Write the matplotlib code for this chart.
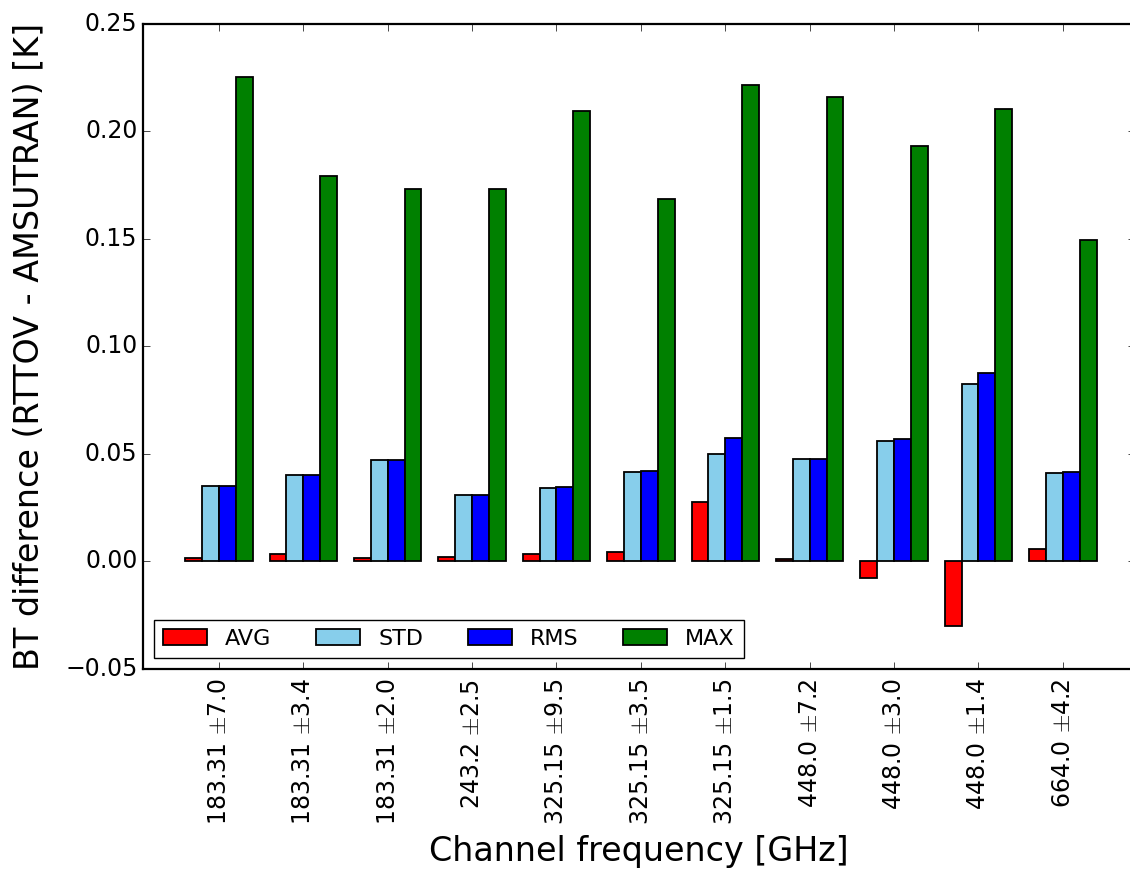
import matplotlib
matplotlib.use('Agg')
import matplotlib.pyplot as plt
import numpy as np

plt.style.use('classic')

# --- channel centres and sideband offsets (GHz)
centre = ['183.31', '183.31', '183.31', '243.2', '325.15', '325.15',
          '325.15', '448.0', '448.0', '448.0', '664.0']
offset = ['7.0', '3.4', '2.0', '2.5', '9.5', '3.5', '1.5', '7.2', '3.0',
          '1.4', '4.2']

# --- BT difference statistics (K)
avg = [0.0016, 0.0033, 0.0017, 0.0023, 0.0033, 0.0045, 0.0276, 0.0011,
       -0.0079, -0.0298, 0.0059]
std = [0.0352, 0.0400, 0.0473, 0.0310, 0.0342, 0.0416, 0.0500, 0.0478,
       0.0562, 0.0827, 0.0412]
rms = [0.0352, 0.0400, 0.0473, 0.0310, 0.0345, 0.0419, 0.0573, 0.0478,
       0.0567, 0.0878, 0.0418]
bt_max = [0.2250, 0.1790, 0.1733, 0.1733, 0.2095, 0.1686, 0.2216, 0.2157,
          0.1930, 0.2101, 0.1492]

ind = np.arange(len(centre))
width = 0.2

fig = plt.figure(figsize=(11.3, 8.69), dpi=100)
ax = fig.add_axes([0.1265, 0.2301, 0.8776, 0.7428])

lw = 1.3
ax.bar(ind, avg, width, color='red', label='AVG', align='edge', linewidth=lw)
ax.bar(ind + width, std, width, color='skyblue', label='STD', align='edge',
       linewidth=lw)
ax.bar(ind + 2 * width, rms, width, color='blue', label='RMS', align='edge',
       linewidth=lw)
ax.bar(ind + 3 * width, bt_max, width, color='green', label='MAX',
       align='edge', linewidth=lw)

for sp in ax.spines.values():
    sp.set_linewidth(1.6)

ax.set_xlim(-0.5, 11.25)
ax.set_ylim(-0.05, 0.25)
ax.set_yticks(np.arange(-0.05, 0.26, 0.05))

ax.set_xticks(ind + 2 * width)
ax.set_xticklabels([c + r' $\pm$' + o for c, o in zip(centre, offset)],
                   rotation=90, fontsize=17)
ax.tick_params(axis='y', labelsize=17)
ax.tick_params(axis='x', pad=7)
ax.tick_params(which='major', length=5)

ax.set_xlabel('Channel frequency [GHz]', fontsize=24, labelpad=7)
ax.set_ylabel('BT difference (RTTOV - AMSUTRAN) [K]', fontsize=24,
              labelpad=14)

ax.legend(loc='lower left', ncol=4, fontsize=16)

plt.savefig('out.png', dpi=100, facecolor='white')
